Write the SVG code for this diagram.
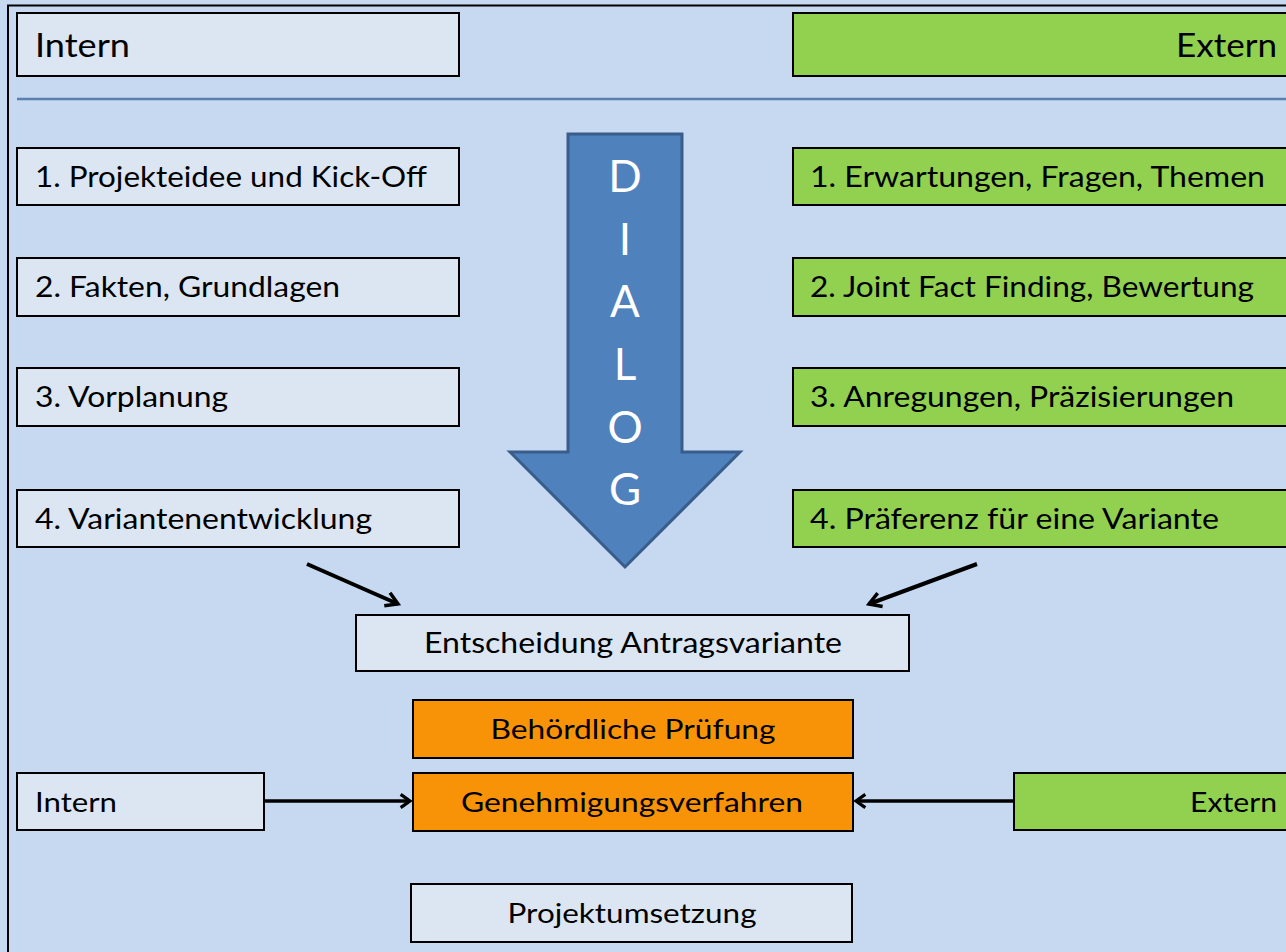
<svg xmlns="http://www.w3.org/2000/svg" width="1286" height="952" viewBox="0 0 1286 952">
<defs>
<style>
.bg{fill:#C6D9F0}
.lt{fill:#DCE6F2;stroke:#000;stroke-width:2}
.gr{fill:#92D050;stroke:#000;stroke-width:2}
.or{fill:#F89308;stroke:#000;stroke-width:2}
.t{font-family:"Lato","Liberation Sans",sans-serif;fill:#000;font-size:29px}
.h{font-size:33px}
.s{font-size:27px}
.c{text-anchor:middle}
.r{text-anchor:end}
.dl{font-family:"Lato","Liberation Sans",sans-serif;fill:#fff;font-size:44px;text-anchor:middle}
.cn{stroke:#000;stroke-width:4;fill:none}
.cb{stroke:#000;stroke-width:3.5;fill:none}
</style>
<marker id="ah" viewBox="0 0 12 12" refX="10" refY="6" markerWidth="19" markerHeight="19" markerUnits="userSpaceOnUse" orient="auto">
<path d="M2.5,1.5 L10,6 L2.5,10.5" fill="none" stroke="#000" stroke-width="2.2"/>
</marker>
<marker id="ah2" viewBox="0 0 12 12" refX="10" refY="6" markerWidth="16" markerHeight="16" markerUnits="userSpaceOnUse" orient="auto">
<path d="M3,1 L10,6 L3,11" fill="none" stroke="#000" stroke-width="2.4"/>
</marker>
</defs>
<rect class="bg" x="0" y="0" width="1286" height="952"/>
<path d="M8,952 V5.5 H1286" fill="none" stroke="#000" stroke-width="2"/>
<line x1="17" y1="99" x2="1286" y2="99" stroke="#5B7FAE" stroke-width="2.5"/>

<g id="intern-header"><rect class="lt" x="17" y="13" width="442" height="63"/><text class="t h" x="35" y="57" textLength="95" lengthAdjust="spacingAndGlyphs">Intern</text></g>
<g id="extern-header"><rect class="gr" x="793" y="13" width="500" height="63"/><text class="t h r" x="1277" y="57" textLength="101" lengthAdjust="spacingAndGlyphs">Extern</text></g>

<g id="i1"><rect class="lt" x="17" y="148" width="442" height="57"/><text class="t" x="35" y="187" textLength="392" lengthAdjust="spacingAndGlyphs">1. Projekteidee und Kick-Off</text></g>
<g id="i2"><rect class="lt" x="17" y="258" width="442" height="58"/><text class="t" x="35" y="297" textLength="305" lengthAdjust="spacingAndGlyphs">2. Fakten, Grundlagen</text></g>
<g id="i3"><rect class="lt" x="17" y="368" width="442" height="58"/><text class="t" x="35" y="407" textLength="193" lengthAdjust="spacingAndGlyphs">3. Vorplanung</text></g>
<g id="i4"><rect class="lt" x="17" y="490" width="442" height="57"/><text class="t" x="35" y="529" textLength="337" lengthAdjust="spacingAndGlyphs">4. Variantenentwicklung</text></g>

<g id="e1"><rect class="gr" x="793" y="148" width="500" height="57"/><text class="t" x="810" y="187" textLength="455" lengthAdjust="spacingAndGlyphs">1. Erwartungen, Fragen, Themen</text></g>
<g id="e2"><rect class="gr" x="793" y="258" width="500" height="58"/><text class="t" x="810" y="297" textLength="444" lengthAdjust="spacingAndGlyphs">2. Joint Fact Finding, Bewertung</text></g>
<g id="e3"><rect class="gr" x="793" y="368" width="500" height="58"/><text class="t" x="810" y="407" textLength="424" lengthAdjust="spacingAndGlyphs">3. Anregungen, Präzisierungen</text></g>
<g id="e4"><rect class="gr" x="793" y="490" width="500" height="57"/><text class="t" x="810" y="529" textLength="409" lengthAdjust="spacingAndGlyphs">4. Präferenz für eine Variante</text></g>

<g id="dialog">
<path d="M568,134 H682 V452 H740 L625,567 L510,452 H568 Z" fill="#4F81BD" stroke="#385D8A" stroke-width="3" stroke-linejoin="miter"/>
<text class="dl" x="625" y="192">D</text>
<text class="dl" x="625" y="255">I</text>
<text class="dl" x="625" y="317">A</text>
<text class="dl" x="625" y="380">L</text>
<text class="dl" x="625" y="443">O</text>
<text class="dl" x="625" y="505">G</text>
</g>

<g id="entscheidung"><rect class="lt" x="356" y="615" width="553" height="56"/><text class="t c" x="633" y="653" textLength="418" lengthAdjust="spacingAndGlyphs">Entscheidung Antragsvariante</text></g>
<g id="behoerde"><rect class="or" x="413" y="700" width="440" height="58"/><text class="t s c" x="633" y="739" textLength="285" lengthAdjust="spacingAndGlyphs">Behördliche Prüfung</text></g>
<g id="genehmigung"><rect class="or" x="413" y="773" width="440" height="58"/><text class="t s c" x="632" y="812" textLength="342" lengthAdjust="spacingAndGlyphs">Genehmigungsverfahren</text></g>
<g id="intern-bottom"><rect class="lt" x="17" y="773" width="247" height="57"/><text class="t s" x="35" y="812" textLength="82" lengthAdjust="spacingAndGlyphs">Intern</text></g>
<g id="extern-bottom"><rect class="gr" x="1014" y="773" width="280" height="57"/><text class="t s r" x="1277" y="812" textLength="87" lengthAdjust="spacingAndGlyphs">Extern</text></g>
<g id="umsetzung"><rect class="lt" x="411" y="884" width="441" height="58"/><text class="t s c" x="632" y="923" textLength="249" lengthAdjust="spacingAndGlyphs">Projektumsetzung</text></g>

<g id="connectors">
<line class="cn" x1="307" y1="564" x2="398" y2="604" marker-end="url(#ah)"/>
<line class="cn" x1="977" y1="564" x2="869" y2="604" marker-end="url(#ah)"/>
<line class="cb" x1="265" y1="801" x2="410" y2="801" marker-end="url(#ah2)"/>
<line class="cb" x1="1013" y1="801" x2="856" y2="801" marker-end="url(#ah2)"/>
</g>
</svg>
